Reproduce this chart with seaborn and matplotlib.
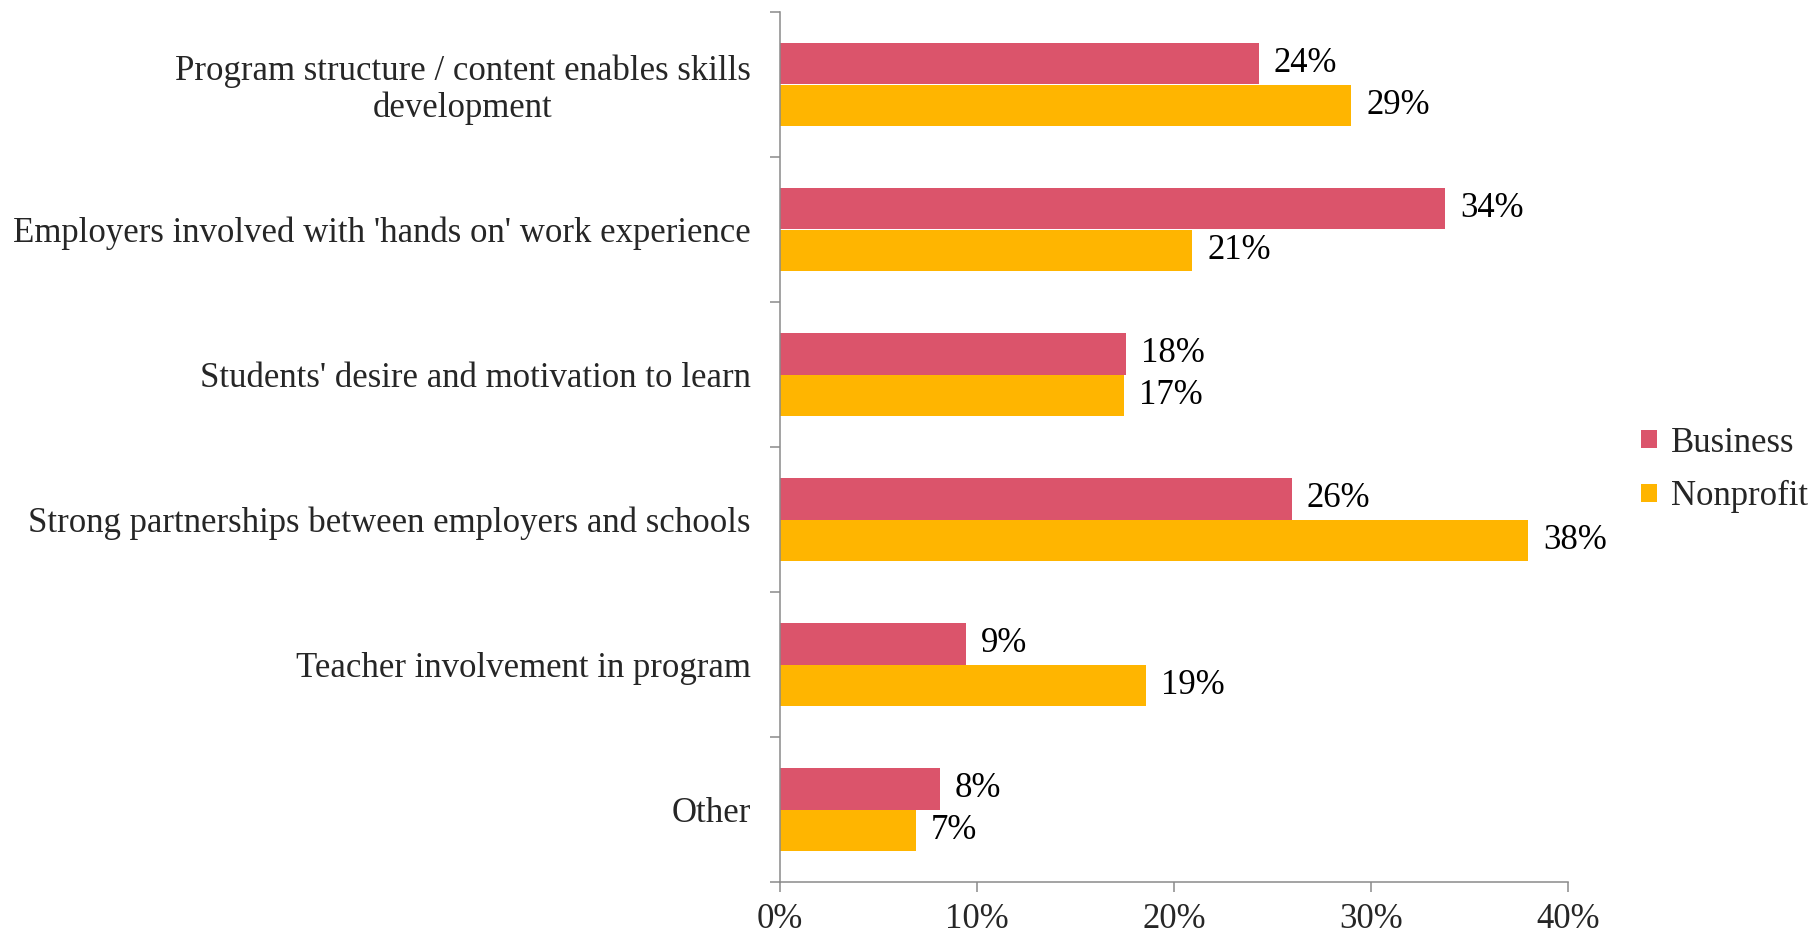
import matplotlib
matplotlib.use("Agg")
import matplotlib.pyplot as plt
from matplotlib.patches import Patch
import seaborn as sns
import pandas as pd

categories = [
    "Program structure / content enables skills\ndevelopment",
    "Employers involved with 'hands on' work experience",
    "Students' desire and motivation to learn",
    "Strong partnerships between employers and schools",
    "Teacher involvement in program",
    "Other",
]
business = [0.243, 0.3376, 0.1755, 0.2597, 0.0944, 0.081]
nonprofit = [0.290, 0.209, 0.1744, 0.3797, 0.1858, 0.069]
groups = ["Business", "Nonprofit"]
x_ticks = [0.0, 0.1, 0.2, 0.3, 0.4]
x_tick_labels = ["0%", "10%", "20%", "30%", "40%"]

colors = {"Business": "#DB546B", "Nonprofit": "#FFB500"}
axis_grey = "#8A8A8A"

sns.set_theme(style="white")
plt.rcParams["font.family"] = ["Liberation Serif", "DejaVu Serif"]

df = pd.DataFrame({
    "category": categories * 2,
    "value": business + nonprofit,
    "group": [groups[0]] * len(categories) + [groups[1]] * len(categories),
})

fig = plt.figure(figsize=(18.10, 9.36), dpi=100)
ax = fig.add_axes([780 / 1810, 1 - 882 / 936, (1568 - 780) / 1810, (882 - 12) / 936])

sns.barplot(
    data=df, y="category", x="value", hue="group", order=categories,
    hue_order=groups, palette=colors, orient="h", width=0.572,
    saturation=1, ax=ax, legend=False, errorbar=None, linewidth=0,
)

fs = 25
for container in ax.containers:
    ax.bar_label(container, labels=[f"{v:.0%}" for v in container.datavalues],
                 padding=11, fontsize=fs, color="black")

ax.set_xlim(0, 0.4)
ax.set_ylim(len(categories) - 0.5, -0.5)
ax.set_xlabel("")
ax.set_ylabel("")

ax.set_xticks(x_ticks)
ax.set_xticklabels(x_tick_labels, fontsize=fs)
ax.set_yticks(range(len(categories)))
ax.set_yticklabels(categories, fontsize=fs, multialignment="center", linespacing=1.1)
ax.set_yticks([i - 0.5 for i in range(len(categories) + 1)], minor=True)

ax.tick_params(axis="y", which="major", length=0, pad=21)
ax.tick_params(axis="y", which="minor", length=7.2, width=1.1, color=axis_grey, direction="out", left=True)
ax.tick_params(axis="x", which="major", length=7.2, width=1.1, color=axis_grey, direction="out", pad=8, bottom=True)

for side in ["top", "right"]:
    ax.spines[side].set_visible(False)
for side in ["left", "bottom"]:
    ax.spines[side].set_color(axis_grey)
    ax.spines[side].set_linewidth(1.1)

handles = [Patch(facecolor=colors[g], edgecolor="none", label=g) for g in groups]
fig.legend(handles=handles, loc="center left", bbox_to_anchor=(1641 / 1810, 1 - 470 / 936),
           frameon=False, fontsize=fs, handlelength=0.45, handleheight=0.45,
           handletextpad=0.4, labelspacing=0.6, borderaxespad=0, borderpad=0)

fig.savefig("out.png", dpi=100, facecolor="white")
